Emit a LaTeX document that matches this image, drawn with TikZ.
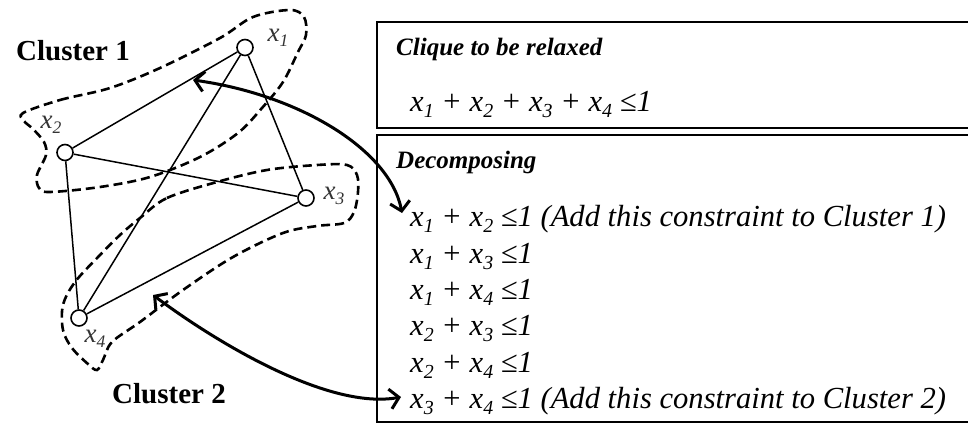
\documentclass[tikz,border=0pt]{standalone}
\usepackage{fontspec}
\setmainfont{Liberation Serif}
\usepackage{graphicx}
\usetikzlibrary{arrows.meta}
\newcommand{\xsb}[1]{x\raisebox{-0.2em}{\scalebox{0.65}{#1}}}
\begin{document}
\begin{tikzpicture}[x=1pt,y=-1pt,
  vtx/.style={circle,draw,line width=1.6pt,fill=white,minimum size=16pt,inner sep=0pt},
  edge/.style={line width=1.5pt},
  clus/.style={line width=2.6pt,dash pattern=on 9pt off 5pt},
  bigarrow/.style={line width=3pt,{Straight Barb[length=9pt,width=20pt]}-{Straight Barb[length=9pt,width=20pt]}},
  boxline/.style={line width=2pt},
  vlab/.style={inner sep=0pt,font=\fontsize{27}{30}\selectfont\itshape,text=black!80},
  head/.style={anchor=base west,inner sep=0pt,font=\fontsize{25}{30}\selectfont\bfseries\itshape},
  frm/.style={anchor=base west,inner sep=0pt,font=\fontsize{30.6}{36}\selectfont\itshape},
  clab/.style={anchor=base west,inner sep=0pt,font=\fontsize{29}{34}\selectfont\bfseries}]
\useasboundingbox (0,0) rectangle (968,423);
% boxes
\draw[boxline] (376.5,22) rectangle (990,128);
\draw[boxline] (377,135) rectangle (990,421.5);
% texts in boxes
\node[head] (h1) at (396,55) {Clique to be relaxed};
\node[frm] (f0) at (410,111.7) {\xsb{1} + \xsb{2} + \xsb{3} + \xsb{4} ≤1};
\node[head] (h2) at (396,168) {Decomposing};
\node[frm] (c1) at (410,226.7) {\xsb{1} + \xsb{2} ≤1 (Add this constraint to Cluster 1)};
\node[frm] (c2) at (410,263) {\xsb{1} + \xsb{3} ≤1};
\node[frm] (c3) at (410,299.3) {\xsb{1} + \xsb{4} ≤1};
\node[frm] (c4) at (410,335.6) {\xsb{2} + \xsb{3} ≤1};
\node[frm] (c5) at (410,372) {\xsb{2} + \xsb{4} ≤1};
\node[frm] (c6) at (410,408.3) {\xsb{3} + \xsb{4} ≤1 (Add this constraint to Cluster 2)};
% cluster outlines
\draw[clus] plot[smooth cycle,tension=0.55] coordinates {
 (23,113) (60,100) (110,88) (160,68) (220,38) (253,17) (290,10) (304,17)
 (306,35) (298,52) (283,82) (262,108) (238,133) (200,157) (150,177)
 (100,187) (50,192) (39,188) (37,175) (46,155) (44,142) (33,129) (24,121)};
\draw[clus] plot[smooth cycle,tension=0.55] coordinates {
 (140,218) (167,198) (217,182) (267,170) (317,165) (347,165) (357,175)
 (358,192) (354,212) (344,223) (317,226) (283,233) (233,257) (183,290)
 (140,322) (112,342) (103,360) (97,370) (88,364) (72,348) (63,330)
 (63,305) (75,282) (100,255) (120,235)};
% vertices
\node[vtx] (v1) at (245,47.5) {};
\node[vtx] (v2) at (65,152.5) {};
\node[vtx] (v3) at (306,198) {};
\node[vtx] (v4) at (79,318) {};
\node[vlab] (l1) at (278,38) {\xsb{1}};
\node[vlab] (l2) at (51,125) {\xsb{2}};
\node[vlab] (l3) at (334,196) {\xsb{3}};
\node[vlab] (l4) at (95,339) {\xsb{4}};
% edges
\draw[edge] (v1) -- (v2);
\draw[edge] (v1) -- (v3);
\draw[edge] (v1) -- (v4);
\draw[edge] (v2) -- (v3);
\draw[edge] (v2) -- (v4);
\draw[edge] (v3) -- (v4);
% cluster labels
\node[clab] (k1) at (16,60) {Cluster 1};
\node[clab] (k2) at (112,403) {Cluster 2};
% arrows
\coordinate (a1s) at (193,80);
\coordinate (a1e) at (402,213);
\coordinate (a2s) at (153,295);
\coordinate (a2e) at (401,397);
\draw[bigarrow] (a1s) .. controls (300,95) and (390,150) .. (a1e);
\draw[bigarrow] (a2s) .. controls (220,345) and (330,410) .. (a2e);
\end{tikzpicture}
\end{document}
